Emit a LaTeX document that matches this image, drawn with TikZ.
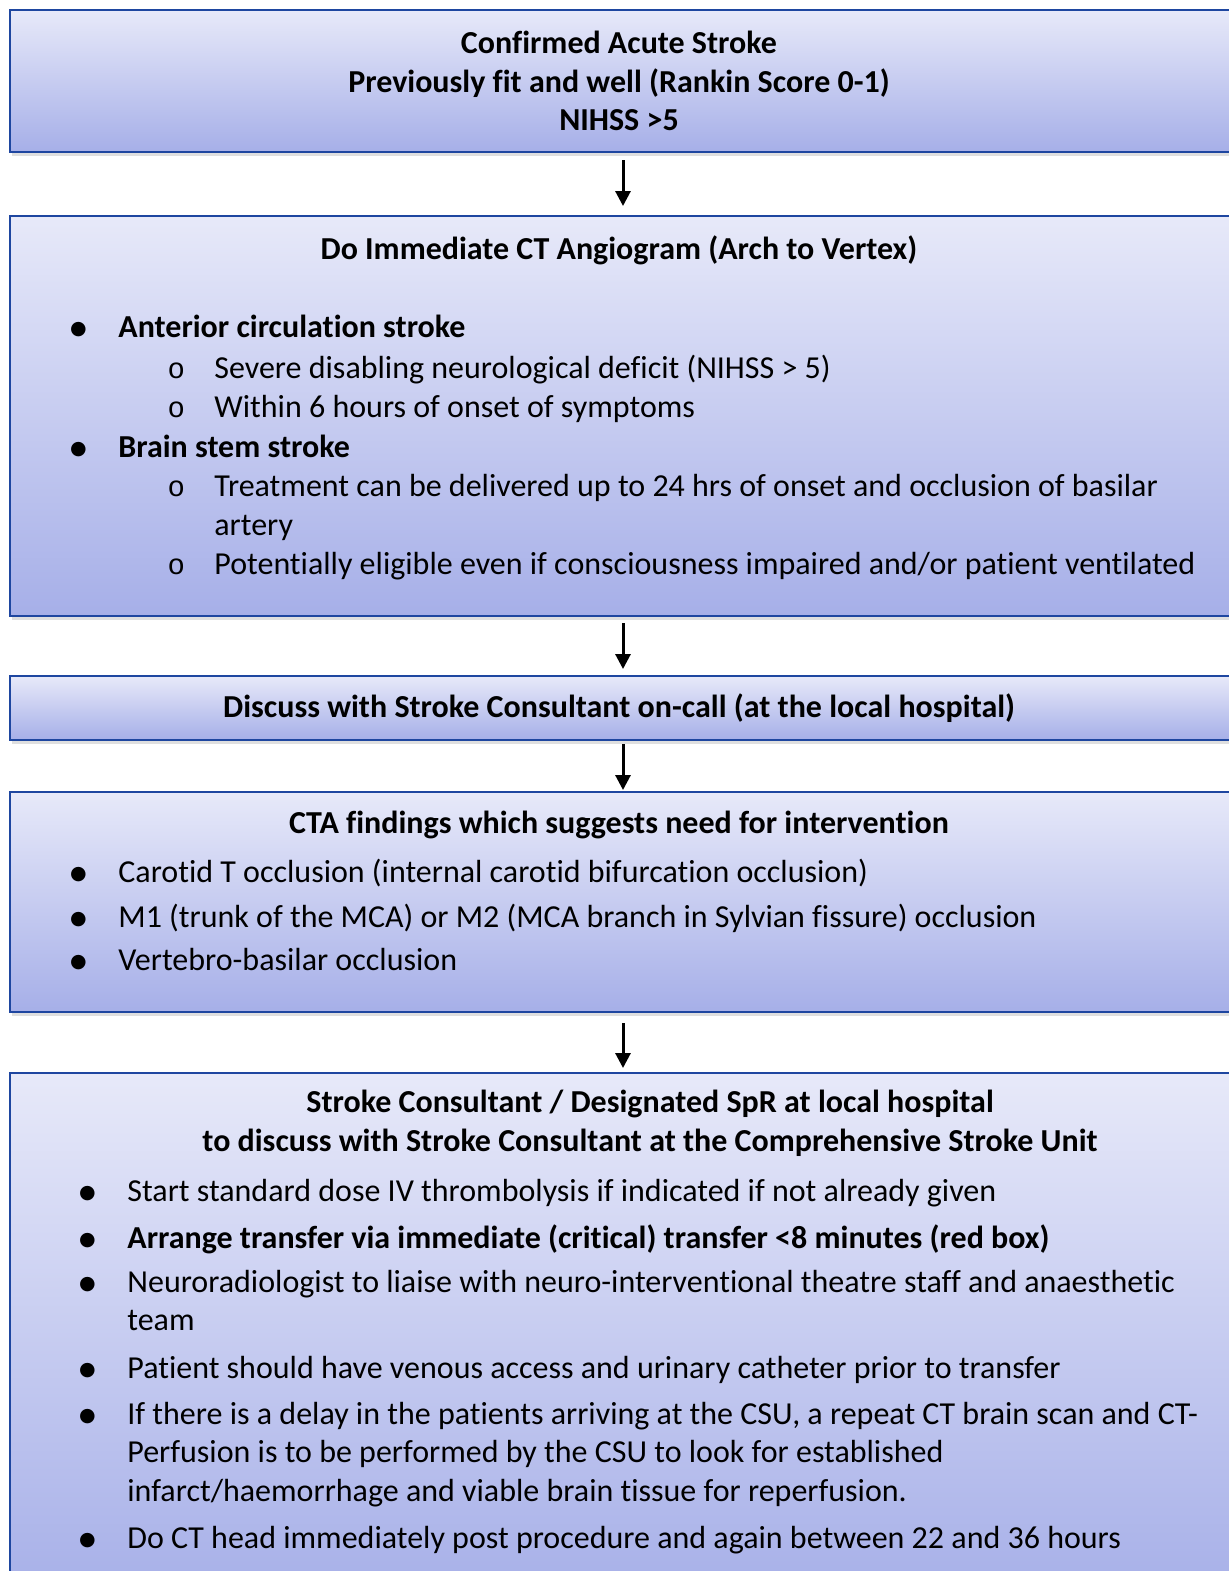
\documentclass[tikz,border=0pt]{standalone}
\usepackage{fontspec}
\setmainfont{Carlito}[Ligatures=NoCommon]
\newfontfamily\dotfont{DejaVu Sans}
\newfontfamily\ofont{Liberation Mono}
\usepackage{xcolor}
\usepackage{tikz}
\usetikzlibrary{arrows.meta, shadows}

\definecolor{boxline}{RGB}{30,70,160}
\definecolor{boxtop}{RGB}{231,233,249}
\definecolor{boxbottom}{RGB}{166,175,232}

\newcommand{\bodyfont}{\fontsize{16}{19.5}\selectfont}
\newcommand{\dotitem}{\llap{\makebox[40pt][c]{\raisebox{1.2pt}{\fontsize{9.5}{9.5}\dotfont ●}}}}
\newcommand{\circitem}{\llap{\makebox[38pt][c]{\fontsize{14.5}{14.5}\ofont o}}}

\begin{document}
\begin{tikzpicture}[
        x=0.5pt, y=-0.5pt,
        box/.style={
            rectangle,
            draw=boxline,
            line width=1pt,
            top color=boxtop,
            bottom color=boxbottom,
            minimum width=613pt,
            drop shadow={shadow xshift=1pt, shadow yshift=-2pt, opacity=0.25}
        },
        head/.style={
            anchor=base,
            inner sep=0pt,
            font=\bodyfont\bfseries
        },
        line/.style={
            anchor=base west,
            inner sep=0pt,
            font=\bodyfont
        },
        arrow/.style={
            -{Triangle[width=7.5pt,length=7.5pt]},
            line width=1.5pt,
            black
        }
    ]
    \useasboundingbox (0,0) rectangle (1228,1571);

    % Boxes
    \node[box, minimum height=71pt] (confirm) at (623,81) {};
    \node[box, minimum height=200pt] (angio) at (623,416) {};
    \node[box, minimum height=32pt] (discuss) at (623,708) {};
    \node[box, minimum height=110pt] (findings) at (623,902) {};
    \node[box, minimum height=264pt] (transfer) at (623,1337) {};

    % Confirmed stroke
    \node[head] (c1) at (619,53) {Confirmed Acute Stroke};
    \node[head] (c2) at (619,92) {Previously fit and well (Rankin Score 0-1)};
    \node[head] (c3) at (619,130) {NIHSS >5};

    % CT angiogram
    \node[head] (a0) at (619,259) {Do Immediate CT Angiogram (Arch to Vertex)};
    \node[line] (a1) at (118,337) {\dotitem\textbf{Anterior circulation stroke}};
    \node[line] (a2) at (214,378) {\circitem Severe disabling neurological deficit (NIHSS > 5)};
    \node[line] (a3) at (214,417) {\circitem Within 6 hours of onset of symptoms};
    \node[line] (a4) at (118,457) {\dotitem\textbf{Brain stem stroke}};
    \node[line] (a5) at (214,496) {\circitem Treatment can be delivered up to 24 hrs of onset and occlusion of basilar};
    \node[line] (a6) at (214,535) {artery};
    \node[line] (a7) at (214,574) {\circitem Potentially eligible even if consciousness impaired and/or patient ventilated};

    % Discussion
    \node[head] (d0) at (619,717) {Discuss with Stroke Consultant on-call (at the local hospital)};

    % CTA findings
    \node[head] (f0) at (619,833) {CTA findings which suggests need for intervention};
    \node[line] (f1) at (118,882) {\dotitem Carotid T occlusion (internal carotid bifurcation occlusion)};
    \node[line] (f2) at (118,927) {\dotitem M1 (trunk of the MCA) or M2 (MCA branch in Sylvian fissure) occlusion};
    \node[line] (f3) at (118,970) {\dotitem Vertebro-basilar occlusion};

    % Transfer to CSU
    \node[head] (t0) at (650,1112) {Stroke Consultant / Designated SpR at local hospital};
    \node[head] (t1) at (650,1151) {to discuss with Stroke Consultant at the Comprehensive Stroke Unit};
    \node[line] (t2) at (127,1201) {\dotitem Start standard dose IV thrombolysis if indicated if not already given};
    \node[line] (t3) at (127,1248) {\dotitem\textbf{Arrange transfer via immediate (critical) transfer <8 minutes (red box)}};
    \node[line] (t4) at (127,1292) {\dotitem Neuroradiologist to liaise with neuro-interventional theatre staff and anaesthetic};
    \node[line] (t5) at (127,1330) {team};
    \node[line] (t6) at (127,1378) {\dotitem Patient should have venous access and urinary catheter prior to transfer};
    \node[line] (t7) at (127,1424) {\dotitem If there is a delay in the patients arriving at the CSU, a repeat CT brain scan and CT-};
    \node[line] (t8) at (127,1462) {Perfusion is to be performed by the CSU to look for established};
    \node[line] (t9) at (127,1501) {infarct/haemorrhage and viable brain tissue for reperfusion.};
    \node[line] (t10) at (127,1548) {\dotitem Do CT head immediately post procedure and again between 22 and 36 hours};

    % Arrows
    \draw[arrow, shorten <=3.5pt, shorten >=4.5pt] (confirm) -- (angio);
    \draw[arrow, shorten <=3pt, shorten >=3pt] (angio) -- (discuss);
    \draw[arrow, shorten <=1.5pt, shorten >=0.5pt] (discuss) -- (findings);
    \draw[arrow, shorten <=5pt, shorten >=2pt] (findings) -- (transfer);

\end{tikzpicture}
\end{document}
